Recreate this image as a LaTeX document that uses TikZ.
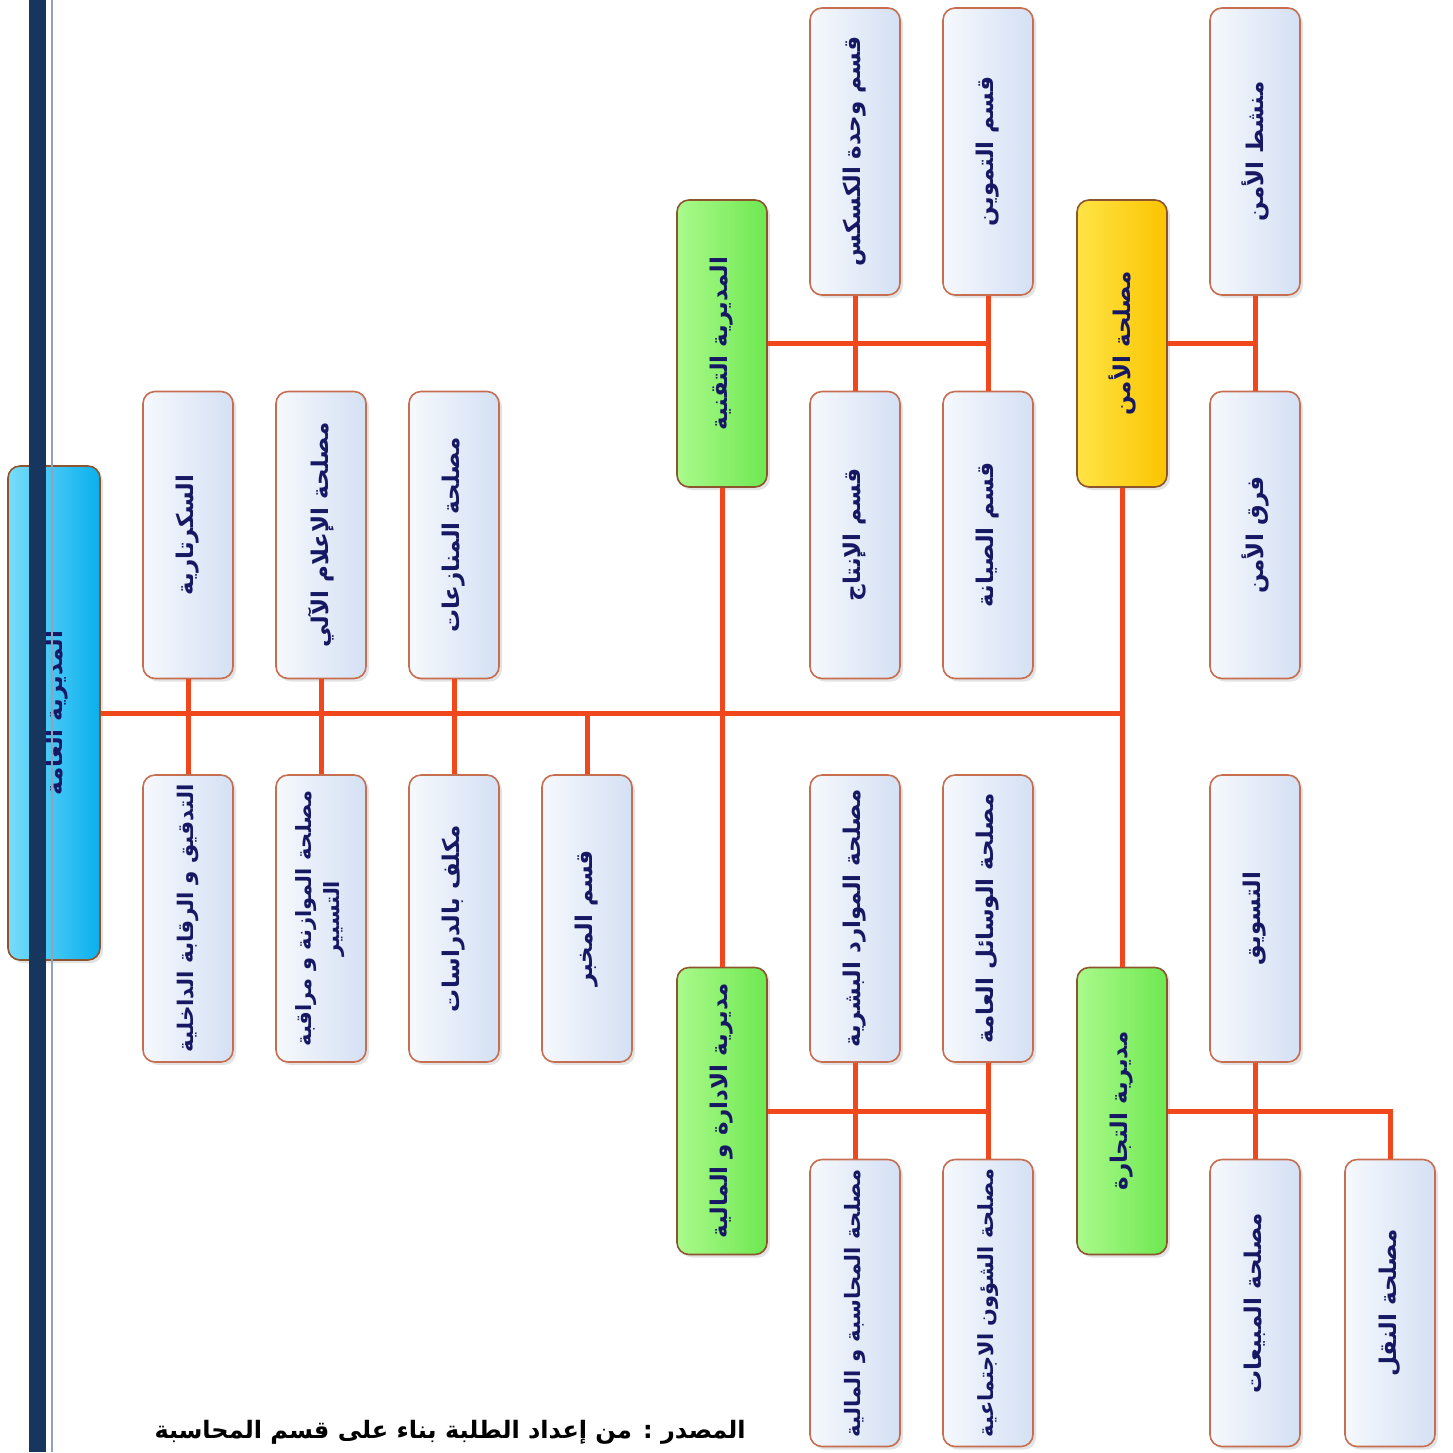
\documentclass[tikz,border=0pt]{standalone}
\usepackage{fontspec}
\usepackage{graphicx}
\usetikzlibrary{shadows}
\newfontfamily\arabicfont[Script=Arabic]{DejaVu Sans}
\TeXXeTstate=1
\definecolor{linkred}{RGB}{240,72,28}
\definecolor{boxedge}{RGB}{200,110,80}
\definecolor{darkedge}{RGB}{140,85,45}
\definecolor{subL}{RGB}{246,249,253}
\definecolor{subR}{RGB}{212,224,244}
\definecolor{greenL}{RGB}{170,250,140}
\definecolor{greenR}{RGB}{110,232,80}
\definecolor{goldL}{RGB}{255,228,70}
\definecolor{goldR}{RGB}{250,196,0}
\definecolor{cyanL}{RGB}{120,220,250}
\definecolor{cyanR}{RGB}{10,176,238}
\definecolor{inkblue}{RGB}{22,24,100}
\definecolor{bandnavy}{RGB}{23,54,93}
\definecolor{bandlight}{RGB}{143,163,190}
\newsavebox{\arbox}
\newcommand{\arlab}[1]{\sbox{\arbox}{\arabicfont\beginR #1\endR}%
  \ifdim\wd\arbox>268pt\relax
    \rotatebox{90}{\resizebox{268pt}{!}{\usebox{\arbox}}}%
  \else
    \rotatebox{90}{\usebox{\arbox}}%
  \fi}
\newcommand{\arlabtwo}[2]{\rotatebox{90}{\arabicfont\begin{tabular}{@{}c@{}}\beginR #1\endR\\[4pt]\beginR #2\endR\end{tabular}}}
\tikzset{
  orgbox/.style={draw=boxedge, line width=1.6pt, rounded corners=12pt,
    minimum width=90pt, minimum height=287pt, inner sep=0pt, text=inkblue,
    font=\bfseries\fontsize{23}{26}\selectfont,
    drop shadow={shadow xshift=3pt, shadow yshift=-3pt, opacity=0.22}},
  subbox/.style={orgbox, left color=subL, right color=subR},
  greenbox/.style={orgbox, draw=darkedge, left color=greenL, right color=greenR},
  goldbox/.style={orgbox, draw=darkedge, left color=goldL, right color=goldR},
  rootbox/.style={orgbox, draw=darkedge, left color=cyanL, right color=cyanR,
    minimum width=92pt, minimum height=494pt},
  link/.style={draw=linkred, line width=5pt}
}
\begin{document}
\begin{tikzpicture}[x=1pt,y=-1pt]
\path[use as bounding box, clip] (0,0) rectangle (1453,1452);
\fill[white] (0,0) rectangle (1453,1452);

% root
\node[rootbox] (root) at (54,713) {\hspace*{6pt}\arlab{المديرية العامة}};

% staff units
\node[subbox] (s1t) at (188,535) {\arlab{السكرتارية}};
\node[subbox] (s1b) at (188,918.5) {\arlab{التدقيق و الرقابة الداخلية}};
\node[subbox] (s2t) at (321,535) {\arlab{مصلحة الإعلام الآلي}};
\node[subbox, font=\bfseries\fontsize{21}{24}\selectfont] (s2b) at (321,918.5) {\arlabtwo{مصلحة الموازنة و مراقبة}{التسيير}};
\node[subbox] (s3t) at (454,535) {\arlab{مصلحة المنازعات}};
\node[subbox] (s3b) at (454,918.5) {\arlab{مكلف بالدراسات}};
\node[subbox] (s4b) at (587,918.5) {\arlab{قسم المخبر}};

% technical directorate
\node[greenbox] (tech) at (722,343.5) {\arlab{المديرية التقنية}};
\node[subbox] (t1) at (855,151.5) {\arlab{قسم وحدة الكسكس}};
\node[subbox] (t2) at (988,151.5) {\arlab{قسم التموين}};
\node[subbox] (t3) at (855,535) {\arlab{قسم الإنتاج}};
\node[subbox] (t4) at (988,535) {\arlab{قسم الصيانة}};

% security
\node[goldbox] (sec) at (1122,343.5) {\arlab{مصلحة الأمن}};
\node[subbox] (k1) at (1255,151.5) {\arlab{منشط الأمن}};
\node[subbox] (k2) at (1255,535) {\arlab{فرق الأمن}};

% administration and finance
\node[greenbox] (adm) at (722,1111) {\arlab{مديرية الادارة و المالية}};
\node[subbox] (a1) at (855,918.5) {\arlab{مصلحة الموارد البشرية}};
\node[subbox] (a2) at (988,918.5) {\arlab{مصلحة الوسائل العامة}};
\node[subbox] (a3) at (855,1303) {\arlab{مصلحة المحاسبة و المالية}};
\node[subbox] (a4) at (988,1303) {\arlab{مصلحة الشؤون الاجتماعية}};

% commerce
\node[greenbox] (com) at (1122,1111) {\arlab{مديرية التجارة}};
\node[subbox] (c1) at (1255,918.5) {\arlab{التسويق}};
\node[subbox] (c2) at (1255,1303) {\arlab{مصلحة المبيعات}};
\node[subbox] (c3) at (1390,1303) {\arlab{مصلحة النقل}};

% connectors
\draw[link] (root.east) -| (sec.south);
\draw[link] (root.east) -| (com.north);
\draw[link] (s1t.south) -- (s1b.north);
\draw[link] (s2t.south) -- (s2b.north);
\draw[link] (s3t.south) -- (s3b.north);
\draw[link] (s4b.north) -- (s4b.north |- root.east);
\draw[link] (tech.south) -- (adm.north);
\draw[link] (tech.east) -- (t2.south |- tech.east);
\draw[link] (t1.south) -- (t3.north);
\draw[link] (t2.south) -- (t4.north);
\draw[link] (sec.east) -- (k1.south |- sec.east);
\draw[link] (k1.south) -- (k2.north);
\draw[link] (adm.east) -- (a2.south |- adm.east);
\draw[link] (a1.south) -- (a3.north);
\draw[link] (a2.south) -- (a4.north);
\draw[link] (com.east) -| (c3.north);
\draw[link] (c1.south) -- (c2.north);

% source caption
\node[anchor=north east, inner sep=0pt, font=\arabicfont\bfseries\fontsize{24}{28}\selectfont] (src) at (746,1420)
  {\beginR المصدر : من إعداد الطلبة بناء على قسم المحاسبة\endR};

% page border band
\fill[bandnavy] (29,0) rectangle (46,1452);
\fill[bandlight] (51,0) rectangle (53,1452);
\end{tikzpicture}
\end{document}
